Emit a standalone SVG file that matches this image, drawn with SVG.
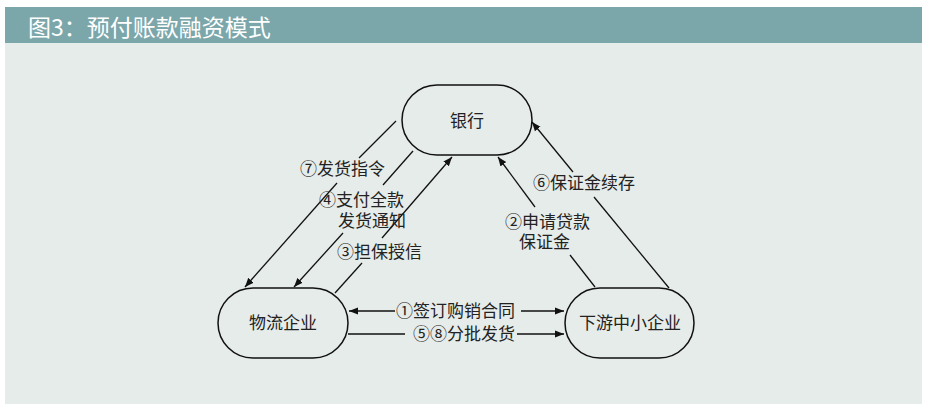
<svg xmlns="http://www.w3.org/2000/svg" width="933" height="414" viewBox="0 0 933 414">
<defs>
<style>
.node rect{fill:none;stroke:#111;stroke-width:1.5}
.nt{font-family:"Noto Sans CJK SC","Noto Sans",sans-serif;font-size:17px;fill:#222;text-anchor:middle}
.lb{font-family:"Noto Sans CJK SC","Noto Sans",sans-serif;font-size:17px;fill:#222}
.ln{stroke:#111;stroke-width:1.3;fill:none}
</style>
<marker id="ah" viewBox="0 0 10 10" refX="10" refY="5" markerWidth="9" markerHeight="9" markerUnits="userSpaceOnUse" orient="auto">
<path d="M0,1 L10,5 L0,9 Z" fill="#111"/>
</marker>
</defs>
<rect x="5" y="7" width="917" height="36" fill="#7BA7AB"/>
<rect x="5" y="43" width="917" height="361" fill="#E6ECE9"/>
<text x="28" y="36" font-family="'Noto Sans CJK SC','Noto Sans',sans-serif" font-size="23" fill="#fff">图3：预付账款融资模式</text>
<g id="connectors">
<line class="ln" x1="395" y1="311" x2="349" y2="311" marker-end="url(#ah)"/>
<line class="ln" x1="521" y1="311" x2="564" y2="311" marker-end="url(#ah)"/>
<line class="ln" x1="348" y1="334" x2="405" y2="334"/>
<line class="ln" x1="517" y1="334" x2="564" y2="334" marker-end="url(#ah)"/>
<line class="ln" x1="396" y1="121" x2="359" y2="158"/>
<line class="ln" x1="337" y1="183" x2="245" y2="287" marker-end="url(#ah)"/>
<line class="ln" x1="413" y1="151" x2="383" y2="185"/>
<line class="ln" x1="343" y1="233" x2="294" y2="287" marker-end="url(#ah)"/>
<line class="ln" x1="335" y1="293" x2="362" y2="263"/>
<line class="ln" x1="382" y1="238" x2="452" y2="157" marker-end="url(#ah)"/>
<line class="ln" x1="595" y1="287" x2="570" y2="255"/>
<line class="ln" x1="535" y1="207" x2="498" y2="157" marker-end="url(#ah)"/>
<line class="ln" x1="669" y1="288" x2="594" y2="197"/>
<line class="ln" x1="573" y1="172" x2="532" y2="122" marker-end="url(#ah)"/>
<text class="lb" x="300" y="175">⑦发货指令</text>
<text class="lb"><tspan x="319" y="206">④支付全款</tspan><tspan x="338" y="227">发货通知</tspan></text>
<text class="lb" x="337" y="258">③担保授信</text>
<text class="lb"><tspan x="505" y="228">②申请贷款</tspan><tspan x="519" y="248">保证金</tspan></text>
<text class="lb" x="533" y="189">⑥保证金续存</text>
<text class="lb" x="396" y="317">①签订购销合同</text>
<text class="lb" x="413" y="340">⑤⑧分批发货</text>
</g>
<g id="bank" class="node"><rect x="402" y="85" width="130" height="70" rx="35"/><text class="nt" x="467" y="127">银行</text></g>
<g id="logistics" class="node"><rect x="218" y="288" width="130" height="70" rx="35"/><text class="nt" x="283" y="329">物流企业</text></g>
<g id="downstream" class="node"><rect x="565" y="288" width="129" height="70" rx="35"/><text class="nt" x="630" y="329">下游中小企业</text></g>
</svg>
